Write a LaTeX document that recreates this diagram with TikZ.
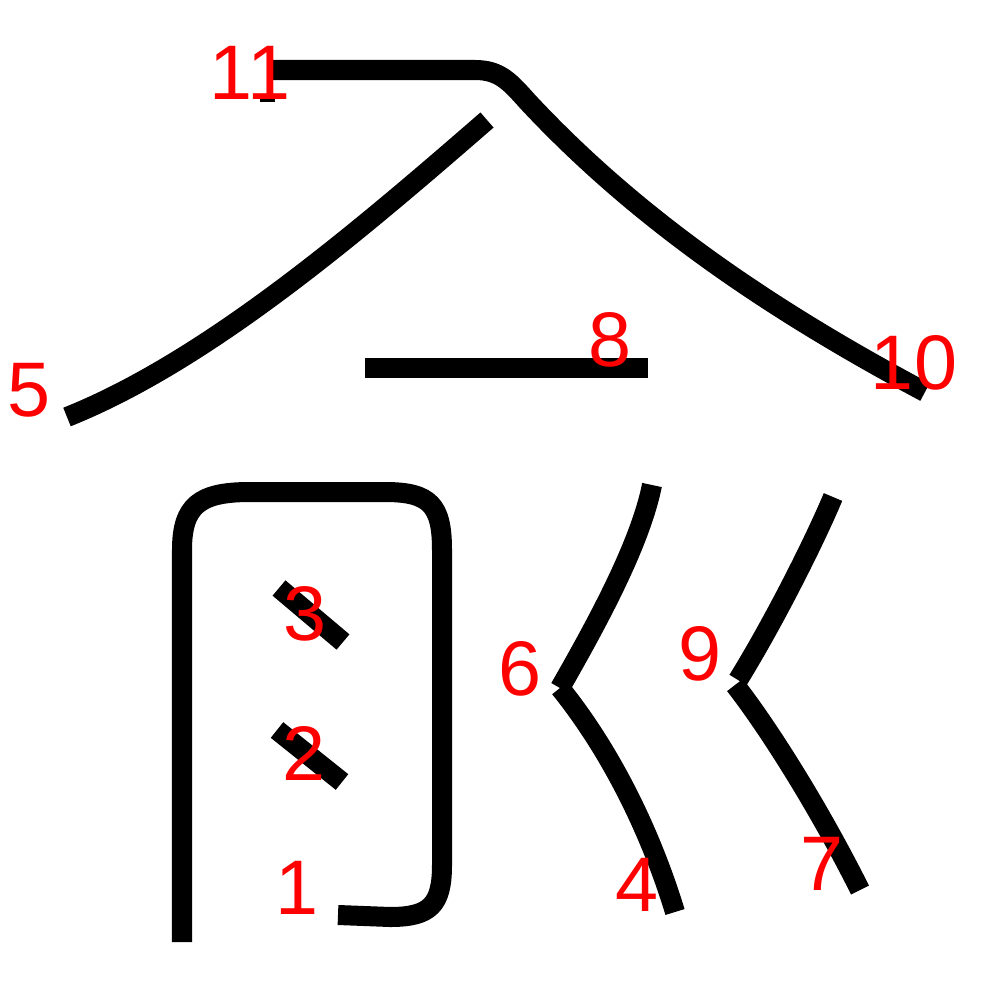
\documentclass[tikz,border=0pt]{standalone}
\usepackage{fontspec}
\setmainfont{Liberation Sans}
\usepackage{tikz}

\begin{document}
\begin{tikzpicture}[x=0.01cm, y=-0.01cm,
  brush/.style={line width=0.2cm, line cap=butt, line join=round},
  num/.style={text=red, inner sep=0pt, font=\fontsize{22}{26}\selectfont}]
  \useasboundingbox (0,0) rectangle (1000,1000);
  % frame and ticks
  \draw[brush] (182,942) -- (182,550) .. controls (182,505) and (200,492) .. (250,492)
    -- (385,492) .. controls (430,492) and (442,505) .. (442,550)
    -- (442,865) .. controls (442,905) and (430,917) .. (390,917) -- (338,915);
  \draw[brush] (279,588) -- (343,642);
  \draw[brush] (277,730) -- (342,782);
  % roof
  \draw[brush] (487,120) .. controls (357,233) and (207,361) .. (67,417);
  \draw[brush] (268,70) -- (475,70) .. controls (500,70) and (510,82) .. (528,102)
    .. controls (640,222) and (775,312) .. (925,392);
  \draw[line width=0.03cm] (260,100) -- (275,100);
  \draw[brush] (365,368) -- (648,368);
  % right strokes
  \draw[brush] (652,485) .. controls (640,545) and (596,625) .. (560,688);
  \draw[brush] (560,688) .. controls (610,750) and (650,830) .. (675,912);
  \draw[brush] (833,497) .. controls (815,540) and (775,620) .. (738,680);
  \draw[brush] (735,685) .. controls (770,730) and (820,810) .. (860,890);
  % stroke numbers
  \node[num] (l1) at (297,888) {1};
  \node[num] (l2) at (304,753) {2};
  \node[num] (l3) at (305,614) {3};
  \node[num] (l4) at (637,885) {4};
  \node[num] (l5) at (29,390) {5};
  \node[num] (l6) at (520,669) {6};
  \node[num] (l7) at (822,864) {7};
  \node[num] (l8) at (610,340) {8};
  \node[num] (l9) at (700,654) {9};
  \node[num] (l10) at (914,363) {10};
  \node[num] (l11) at (250,73) {11};
\end{tikzpicture}
\end{document}
